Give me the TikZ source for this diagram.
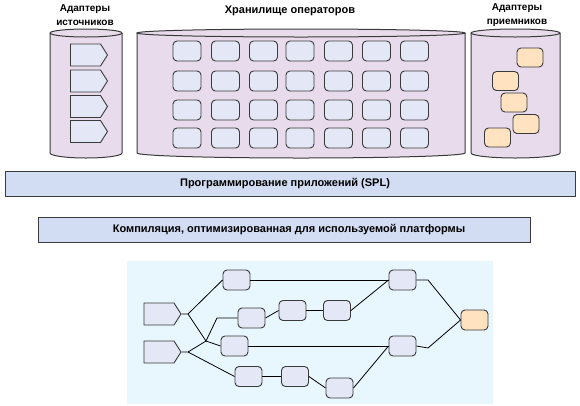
\documentclass[tikz,border=0pt]{standalone}
\usepackage{fontspec}
\setmainfont{Liberation Sans}
\usetikzlibrary{shapes.symbols}
\definecolor{cylfill}{HTML}{E8DCEC}
\definecolor{boxfill}{HTML}{E4E8F6}
\definecolor{orfill}{HTML}{FFE2C0}
\definecolor{barfill}{HTML}{D2DCF2}
\definecolor{panelfill}{HTML}{E8F6FE}
\definecolor{edgecol}{HTML}{3A3A3A}
\begin{document}
\begin{tikzpicture}[x=1pt,y=-1pt,
  cyl/.style={draw=edgecol,line width=1pt,fill=cylfill},
  opbox/.style={draw=edgecol,line width=0.9pt,fill=boxfill,rounded corners=4pt,minimum width=28pt,minimum height=20pt,inner sep=0pt},
  gbox/.style={draw=edgecol,line width=0.9pt,fill=boxfill,rounded corners=4pt,minimum width=27pt,minimum height=20pt,inner sep=0pt},
  obox/.style={draw=edgecol,line width=0.9pt,fill=orfill,rounded corners=4pt,minimum width=26pt,minimum height=19pt,inner sep=0pt},
  pent/.style={draw=edgecol,line width=0.9pt,fill=boxfill,signal,signal to=east,signal pointer angle=115,minimum width=37pt,minimum height=22pt,inner sep=0pt},
  bar/.style={draw=edgecol,line width=0.8pt,fill=barfill,minimum height=25pt,inner sep=0pt,font=\bfseries\fontsize{11}{13}\selectfont},
  ttl/.style={font=\bfseries\fontsize{10}{12}\selectfont,inner sep=0pt,align=center},
  conn/.style={draw=black,line width=0.8pt}
]
\useasboundingbox (0,0) rectangle (580,405);
% cylinders
\foreach \xa/\xb in {50/122,137/465,471/560}{
  \pgfmathsetmacro\rx{(\xb-\xa)/2}
  \pgfmathsetmacro\cx{(\xb+\xa)/2}
  \draw[cyl] (\xa,33) -- (\xa,153) arc[start angle=180,end angle=360,x radius=\rx pt,y radius=5pt] -- (\xb,33);
  \draw[cyl] (\cx,33) ellipse[x radius=\rx pt,y radius=4pt];
}
% titles
\node[ttl] (tsrc) at (85,15) {Адаптеры\\[1.5pt]источников};
\node[ttl,font=\bfseries\fontsize{11}{13}\selectfont] (tops) at (290,11) {Хранилище операторов};
\node[ttl] (tsnk) at (517,15) {Адаптеры\\[1.5pt]приемников};
% source adapters
\foreach \y [count=\i] in {55,81,106.5,131.5}
  \node[pent] (sa\i) at (85.5,\y) {};
% operator grid
\foreach \y [count=\r] in {51,81,110,138}
  \foreach \x [count=\c] in {187,225.5,263.5,300,338.5,376.5,414.5}
    \node[opbox] (g\r\c) at (\x,\y) {};
% sink adapters
\node[obox] (s1) at (530,57.5) {};
\node[obox] (s2) at (505.5,81) {};
\node[obox] (s3) at (514,102.5) {};
\node[obox] (s4) at (526,124) {};
\node[obox] (s5) at (497.5,137.5) {};
% bars
\node[bar,minimum width=570pt] (spl) at (290,183.5) {\hspace*{-10pt}Программирование приложений (SPL)};
\node[bar,minimum width=492pt] (comp) at (284,229.5) {\hspace*{10pt}Компиляция, оптимизированная для используемой платформы};
% panel
\node[fill=panelfill,minimum width=366pt,minimum height=143pt,inner sep=0pt] (panel) at (310,332.5) {};
% graph nodes
\node[pent] (p1) at (159,314) {};
\node[pent] (p2) at (159,352) {};
\node[gbox] (A) at (236.5,280) {};
\node[gbox] (B) at (251.5,318) {};
\node[gbox] (C) at (234.5,346) {};
\node[gbox] (D) at (248.5,376.5) {};
\node[gbox] (E) at (292.5,310.5) {};
\node[gbox] (F) at (337,310.5) {};
\node[gbox] (G) at (295,376.5) {};
\node[gbox] (H) at (339.5,388) {};
\node[gbox] (I) at (402.5,280) {};
\node[gbox] (J) at (402.5,346) {};
\node[obox,minimum width=27pt,minimum height=20pt] (K) at (474.5,320) {};
\coordinate (j1) at (188,314);
\coordinate (j2) at (188,352);
\coordinate (m) at (206,341);
\coordinate (m2) at (217,318);
\coordinate (k1) at (428,280);
\coordinate (k2) at (428,348);
% connectors
\draw[conn] (p1.east) -- (j1) -- (A.west);
\draw[conn] (j1) -- (m) -- (C.west);
\draw[conn] (p2.east) -- (j2) -- (m) -- (m2) -- (B.west);
\draw[conn] (j2) -- (D.west);
\draw[conn] (B.east) -- (E.west);
\draw[conn] (E.east) -- (F.west);
\draw[conn] (D.east) -- (G.west);
\draw[conn] (G.east) -- (H.west);
\draw[conn] (A.east) -- (I.west);
\draw[conn] (F.east) -- (I.west);
\draw[conn] (C.east) -- (J.west);
\draw[conn] (H.east) -- (J.west);
\draw[conn] (I.east) -- (k1) -- (K.west);
\draw[conn] (J.east) -- (k2) -- (K.west);
\end{tikzpicture}
\end{document}
